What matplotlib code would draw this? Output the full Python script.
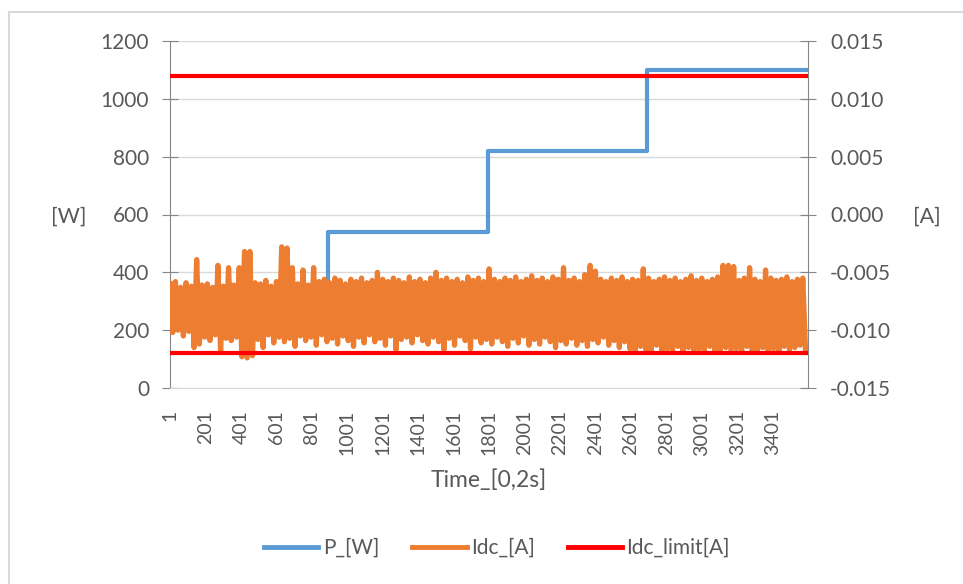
import numpy as np
import matplotlib
matplotlib.use("Agg")
import matplotlib.pyplot as plt
from matplotlib.patches import Rectangle

plt.rcParams['font.family'] = ['Lato', 'DejaVu Sans']

# --- data ---
n_samples = 3600
p_step_x = [1, 893, 1795, 2693, 3600]
p_step_w = [260, 540, 820, 1100, 1100]

idc_step = 15
idc_values = [
    -0.0060, -0.0102, -0.0058, -0.0100, -0.0063, -0.0105, -0.0059, -0.0101, -0.0062, -0.0115,
    -0.0039, -0.0112, -0.0061, -0.0106, -0.0060, -0.0109, -0.0063, -0.0104, -0.0044, -0.0118,
    -0.0062, -0.0107, -0.0046, -0.0109, -0.0061, -0.0106, -0.0046, -0.0123, -0.0032, -0.0124,
    -0.0032, -0.0122, -0.0059, -0.0108, -0.0060, -0.0115, -0.0057, -0.0104, -0.0062, -0.0111,
    -0.0058, -0.0106, -0.0028, -0.0110, -0.0029, -0.0107, -0.0046, -0.0114, -0.0060, -0.0105,
    -0.0048, -0.0109, -0.0061, -0.0106, -0.0046, -0.0113, -0.0058, -0.0104, -0.0056, -0.0110,
    -0.0059, -0.0107, -0.0055, -0.0112, -0.0057, -0.0105, -0.0060, -0.0109, -0.0056, -0.0114,
    -0.0058, -0.0106, -0.0055, -0.0111, -0.0059, -0.0104, -0.0057, -0.0110, -0.0050, -0.0107,
    -0.0056, -0.0113, -0.0058, -0.0105, -0.0055, -0.0117, -0.0057, -0.0108, -0.0059, -0.0106,
    -0.0054, -0.0111, -0.0058, -0.0104, -0.0056, -0.0109, -0.0059, -0.0112, -0.0055, -0.0106,
    -0.0050, -0.0110, -0.0057, -0.0117, -0.0055, -0.0107, -0.0058, -0.0113, -0.0056, -0.0105,
    -0.0059, -0.0109, -0.0054, -0.0116, -0.0057, -0.0106, -0.0055, -0.0111, -0.0058, -0.0108,
    -0.0047, -0.0112, -0.0056, -0.0106, -0.0058, -0.0110, -0.0055, -0.0114, -0.0057, -0.0107,
    -0.0054, -0.0111, -0.0058, -0.0105, -0.0056, -0.0113, -0.0053, -0.0108, -0.0057, -0.0112,
    -0.0055, -0.0106, -0.0058, -0.0110, -0.0054, -0.0115, -0.0056, -0.0109, -0.0046, -0.0112,
    -0.0057, -0.0107, -0.0055, -0.0113, -0.0058, -0.0109, -0.0052, -0.0114, -0.0044, -0.0108,
    -0.0049, -0.0111, -0.0056, -0.0106, -0.0058, -0.0113, -0.0055, -0.0109, -0.0057, -0.0115,
    -0.0054, -0.0110, -0.0058, -0.0116, -0.0056, -0.0118, -0.0057, -0.0114, -0.0047, -0.0117,
    -0.0055, -0.0119, -0.0058, -0.0113, -0.0056, -0.0118, -0.0054, -0.0116, -0.0057, -0.0119,
    -0.0055, -0.0114, -0.0058, -0.0118, -0.0056, -0.0115, -0.0053, -0.0119, -0.0057, -0.0116,
    -0.0055, -0.0118, -0.0058, -0.0114, -0.0056, -0.0119, -0.0054, -0.0117, -0.0044, -0.0115,
    -0.0044, -0.0119, -0.0045, -0.0116, -0.0057, -0.0118, -0.0055, -0.0114, -0.0046, -0.0119,
    -0.0056, -0.0117, -0.0058, -0.0115, -0.0048, -0.0119, -0.0055, -0.0116, -0.0057, -0.0118,
    -0.0056, -0.0114, -0.0054, -0.0117, -0.0058, -0.0115, -0.0056, -0.0113, -0.0055, -0.0116,
]
idc_limit = [0.012, -0.012]

x_ticks = list(range(1, 3402, 200))
w_ticks = [0, 200, 400, 600, 800, 1000, 1200]
a_ticks = [-0.015, -0.010, -0.005, 0.0, 0.005, 0.010, 0.015]

col_p = '#5B9BD5'
col_idc = '#ED7D31'
col_lim = '#FF0000'
txt = '#595959'

fig = plt.figure(figsize=(9.63, 5.84), dpi=100)
fig.patches.append(Rectangle((9 / 963, -0.1), 1.2, 1 - 12 / 584 + 0.1, transform=fig.transFigure,
                             fill=False, edgecolor='#D9D9D9', linewidth=1.5))

ax = fig.add_axes([170 / 963, 1 - 388 / 584, 638 / 963, 347 / 584])
ax2 = ax.twinx()

# primary: power
ax.step(p_step_x, p_step_w, where='post', color=col_p, linewidth=3.0, zorder=2)
ax.set_ylim(0, 1200)
ax.set_xlim(0.5, n_samples + 0.5)
ax.set_yticks(w_ticks)
ax.set_xticks(x_ticks)
ax.set_xticklabels([str(t) for t in x_ticks], rotation=90)
ax.grid(axis='y', color='#D9D9D9', linewidth=1.0)
ax.set_axisbelow(True)

# secondary: current
idc_x = np.arange(len(idc_values)) * idc_step + 1
ax2.plot(idc_x, idc_values, color=col_idc, linewidth=3.8, zorder=3)
for lim in idc_limit:
    ax2.plot([0.5, n_samples + 0.5], [lim, lim], color=col_lim, linewidth=3.0, zorder=4)
ax2.set_ylim(-0.015, 0.015)
ax2.set_yticks(a_ticks)
ax2.set_yticklabels([f'{t:.3f}' for t in a_ticks])

for a in (ax, ax2):
    for s in a.spines.values():
        s.set_visible(False)
ax.spines['left'].set_visible(True)
ax.spines['left'].set_color('#868686')
ax.spines['bottom'].set_visible(True)
ax.spines['bottom'].set_color('#D9D9D9')
ax2.spines['right'].set_visible(True)
ax2.spines['right'].set_color('#868686')

ax.tick_params(axis='y', direction='inout', length=12, color='#868686', labelsize=15,
               labelcolor=txt, pad=9)
ax.tick_params(axis='x', length=0, labelsize=14, labelcolor=txt, pad=16)
ax2.tick_params(axis='y', direction='inout', length=12, color='#868686', labelsize=15,
                labelcolor=txt, pad=10)

ax.set_xlabel('Time_[0,2s]', fontsize=16.5, color=txt, labelpad=10)
fig.text(69 / 963, 1 - 217 / 584, '[W]', fontsize=15.5, color=txt, ha='center', va='center')
fig.text(927 / 963, 1 - 217 / 584, '[A]', fontsize=15.5, color=txt, ha='center', va='center')

handles = [plt.Line2D([], [], color=c, linewidth=3.5) for c in (col_p, col_idc, col_lim)]
fig.legend(handles, ['P_[W]', 'Idc_[A]', 'Idc_limit[A]'], loc='center',
           bbox_to_anchor=(497 / 963, 1 - 548 / 584), ncol=3, frameon=False,
           fontsize=15, labelcolor=txt, handlelength=2.6, handletextpad=0.2,
           columnspacing=1.6)

fig.savefig('out.png', dpi=100)
